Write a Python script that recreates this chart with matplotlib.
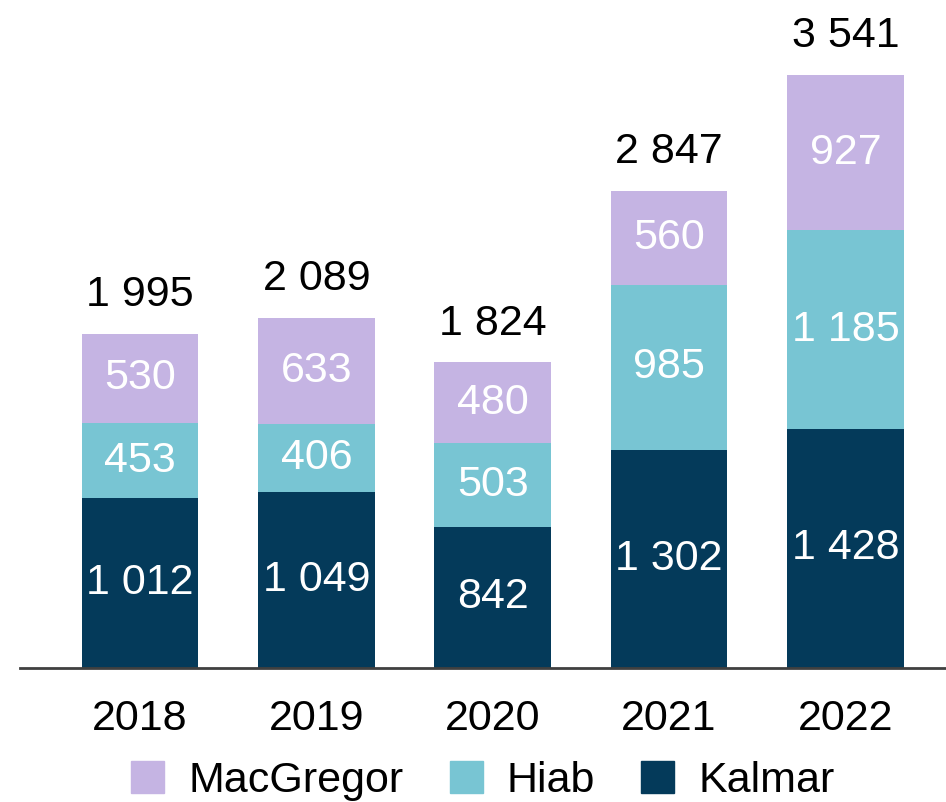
import matplotlib
matplotlib.use("Agg")
import matplotlib.pyplot as plt
from matplotlib.patches import Patch
import numpy as np

plt.rcParams['font.family'] = ['Liberation Sans', 'DejaVu Sans']

years = ["2018", "2019", "2020", "2021", "2022"]
kalmar = [1012, 1049, 842, 1302, 1428]
hiab = [453, 406, 503, 985, 1185]
macgregor = [530, 633, 480, 560, 927]
totals = [1995, 2089, 1824, 2847, 3541]

c_kalmar = "#043A5A"
c_hiab = "#78C5D3"
c_mac = "#C5B4E3"

def fmt(v):
    return f"{v:,}".replace(",", " ")

fig = plt.figure(figsize=(9.46, 8.02), dpi=100)
ax = fig.add_axes([20/946, (802-668)/802, 926/946, 668/802])

x = np.arange(len(years))
w = 0.66
ax.bar(x, kalmar, w, color=c_kalmar)
bottom2 = np.array(kalmar)
ax.bar(x, hiab, w, bottom=bottom2, color=c_hiab)
bottom3 = bottom2 + np.array(hiab)
ax.bar(x, macgregor, w, bottom=bottom3, color=c_mac)

fs = 31
for i in range(len(years)):
    ax.text(x[i], kalmar[i] / 2, fmt(kalmar[i]), ha='center', va='center', color='white', fontsize=fs)
    ax.text(x[i], bottom2[i] + hiab[i] / 2, fmt(hiab[i]), ha='center', va='center', color='white', fontsize=fs)
    ax.text(x[i], bottom3[i] + macgregor[i] / 2, fmt(macgregor[i]), ha='center', va='center', color='white', fontsize=fs)
    ax.annotate(fmt(totals[i]), (x[i], totals[i]), xytext=(0, 13.5), textcoords='offset points',
                ha='center', va='bottom', color='black', fontsize=fs)

ax.set_xlim(-0.68, 4.57)
ax.set_ylim(0, 668 / 0.1675)
ax.set_xticks(x)
ax.set_xticklabels(years, fontsize=fs)
ax.tick_params(axis='x', length=0, pad=22)
ax.set_yticks([])
for s in ['top', 'right', 'left']:
    ax.spines[s].set_visible(False)
ax.spines['bottom'].set_color('#404040')
ax.spines['bottom'].set_linewidth(2)

handles = [Patch(color=c_mac, label='MacGregor'),
           Patch(color=c_hiab, label='Hiab'),
           Patch(color=c_kalmar, label='Kalmar')]
fig.legend(handles=handles, loc='center', bbox_to_anchor=(483/946, (802-781)/802), ncol=3,
           frameon=False, fontsize=fs, handlelength=0.77, handleheight=0.77,
           handletextpad=0.56, columnspacing=1.07, borderpad=0, borderaxespad=0)

fig.savefig("out.png", dpi=100)
